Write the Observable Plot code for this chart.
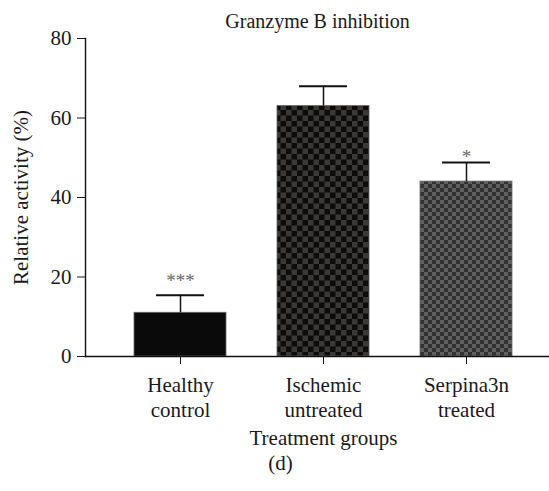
<!DOCTYPE html>
<html><head><meta charset="utf-8">
<script src="https://cdn.jsdelivr.net/npm/d3@7"></script>
<script src="https://cdn.jsdelivr.net/npm/@observablehq/plot@0.6"></script>
<style>body{margin:0;background:#fff} svg{display:block}</style>
</head><body><div id="chart"></div>
<script>
const groups = ["Healthy control", "Ischemic untreated", "Serpina3n treated"];
const tickLabels = ["Healthy\ncontrol", "Ischemic\nuntreated", "Serpina3n\ntreated"];
const means = [11, 63, 44];
const errors = [4.4, 5, 4.8];
const stars = ["***", "", "*"];
const yTicks = [0, 20, 40, 60, 80];
const fills = ["#0a0a0a", "url(#chkA)", "url(#chkB)"];

const data = groups.map((g, i) => ({group: g, mean: means[i], err: errors[i], top: means[i] + errors[i], star: stars[i]}));

const plot = Plot.plot({
  width: 549, height: 491,
  marginLeft: 85, marginRight: 0, marginTop: 38, marginBottom: 135,
  style: {fontFamily: "'Liberation Serif', serif", fontSize: "21px", color: "#1a1a1a", background: "#fff"},
  x: {domain: groups, paddingInner: 0.36, paddingOuter: 0.3, align: 0.57},
  y: {domain: [0, 80]},
  color: {domain: groups, range: fills},
  marks: [
    Plot.barY(data, {x: "group", y: "mean", fill: "group", stroke: "#666", strokeWidth: 0.8}),
    Plot.ruleX(data, {x: "group", y1: "mean", y2: "top", stroke: "#111", strokeWidth: 1.5}),
    Plot.tickY(data, {x: "group", y: "top", stroke: "#111", strokeWidth: 2, insetLeft: 22, insetRight: 22}),
    Plot.text(data.filter(d => d.star === "***"), {x: "group", y: "top", text: "star", dy: -14, fill: "#666", fontSize: 19}),
    Plot.text(data.filter(d => d.star === "*"), {x: "group", y: "top", text: "star", dy: -6, fill: "#666", fontSize: 19}),
    Plot.ruleY([0], {stroke: "#111", strokeWidth: 1.4}),
    Plot.frame({anchor: "left", stroke: "#111", strokeWidth: 1.4}),
    Plot.axisY({ticks: yTicks, tickSize: 8, tickPadding: 6, label: "Relative activity (%)", labelAnchor: "center", labelOffset: 72, labelArrow: "none"}),
    Plot.axisX({tickSize: 8, tickPadding: 10, tickFormat: d => tickLabels[groups.indexOf(d)], lineHeight: 1.19, label: null}),
    Plot.text(["Granzyme B inhibition"], {frameAnchor: "top", dy: -25, fontSize: 20}),
    Plot.text(["Treatment groups"], {frameAnchor: "bottom", dx: 6, dy: 88}),
    Plot.text(["(d)"], {frameAnchor: "bottom", dx: -37, dy: 113})
  ]
});

// checkerboard patterns
const svg = d3.select(plot);
const defs = svg.insert("defs", ":first-child");
function checker(id, s, dark, light) {
  const p = defs.append("pattern").attr("id", id).attr("patternUnits", "userSpaceOnUse")
    .attr("width", 2 * s).attr("height", 2 * s);
  p.append("rect").attr("width", 2 * s).attr("height", 2 * s).attr("fill", dark);
  p.append("rect").attr("width", s).attr("height", s).attr("fill", light);
  p.append("rect").attr("x", s).attr("y", s).attr("width", s).attr("height", s).attr("fill", light);
}
checker("chkA", 5.5, "#0c0c0c", "#3b3835");
checker("chkB", 4, "#323232", "#606060");

document.getElementById("chart").appendChild(plot);
</script>
</body></html>
